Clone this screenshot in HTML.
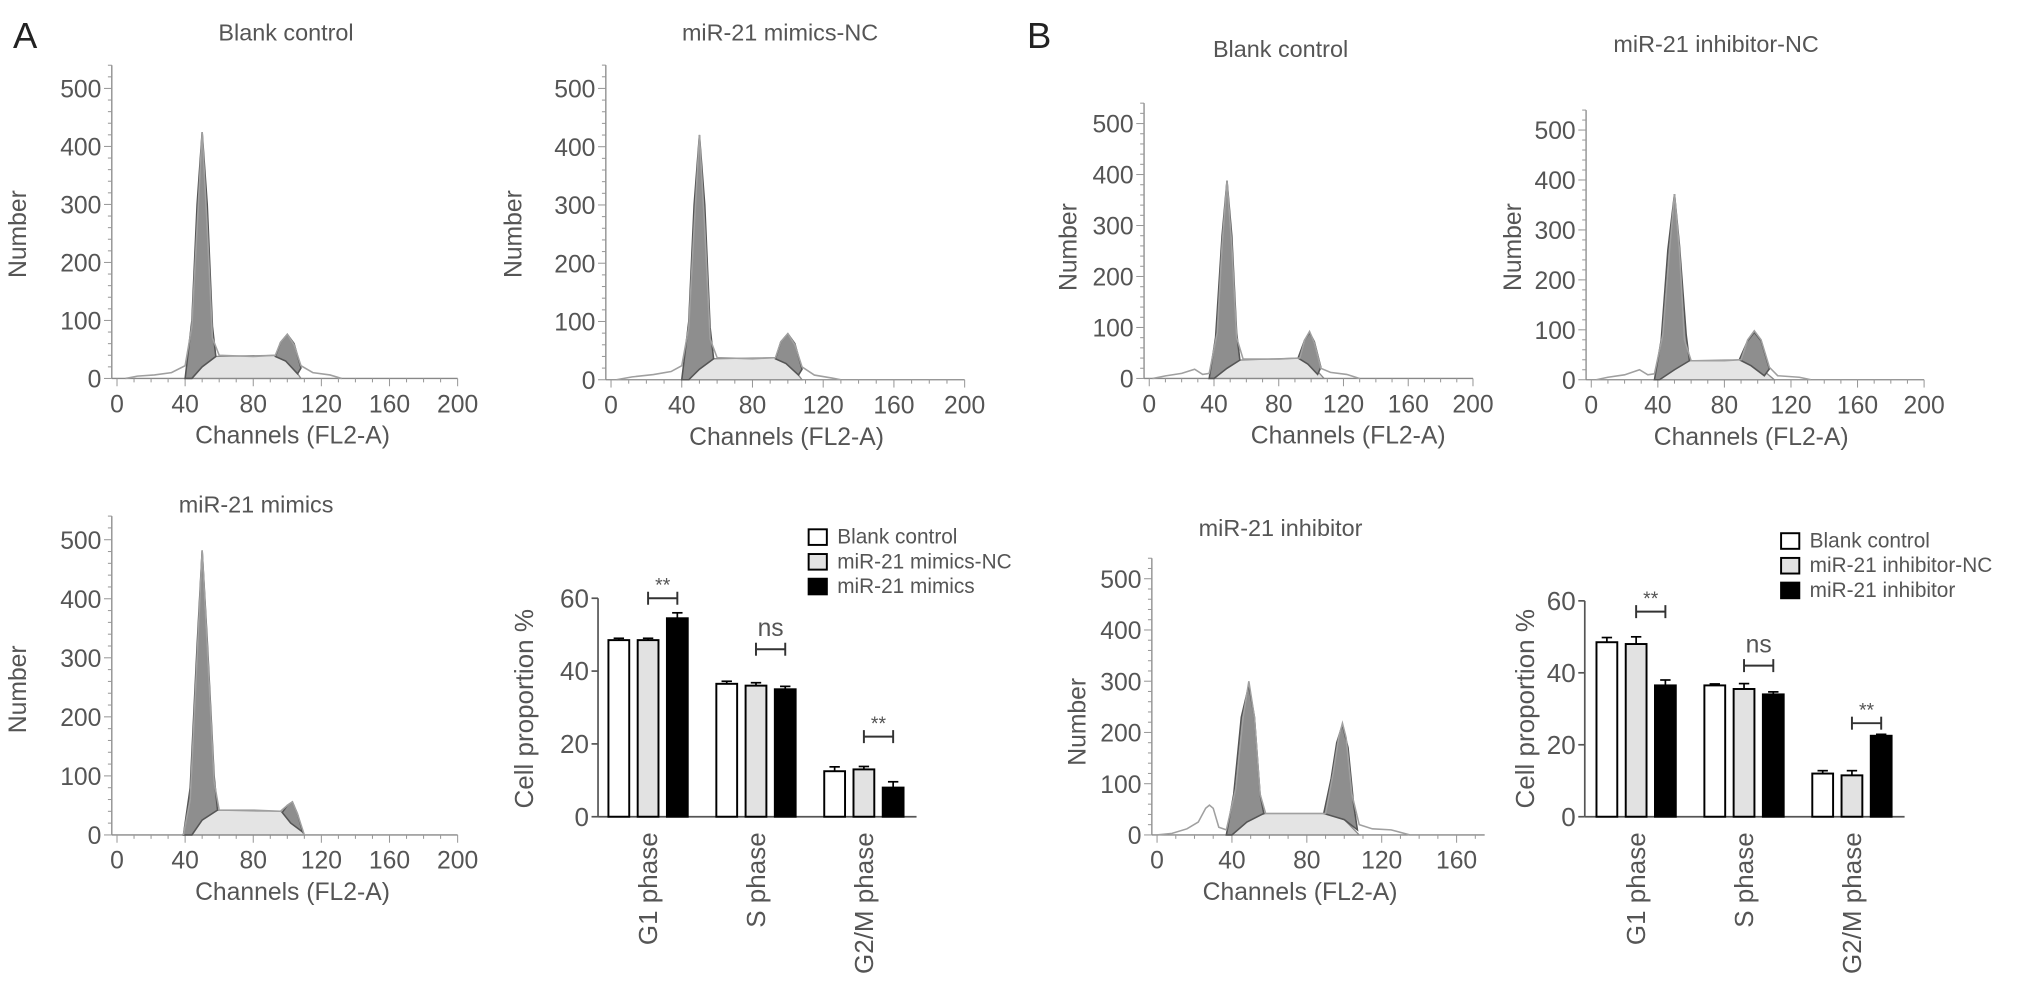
<!DOCTYPE html>
<html><head><meta charset="utf-8"><style>
html,body{margin:0;padding:0;background:#fff;}
svg{display:block;font-family:"Liberation Sans",sans-serif;}
</style></head><body>
<svg id="fig" width="2032" height="991" viewBox="0 0 1563 762" preserveAspectRatio="none">
<text x="10" y="37" font-size="28" fill="#222">A</text>
<text x="790" y="37" font-size="28" fill="#222">B</text>
</svg>
<script>
// ---------- Histogram data (channel, count) ----------
const a1Outline=[[5,0],[12,4],[22,6],[32,10],[40,22],[44,90],[47,260],[50,425],[53,260],[56,70],[60,40],[80,38],[93,40],[96,62],[100,76],[104,58],[108,22],[115,10],[125,6],[132,0]];
const a1G1=[[40,0],[44,100],[47,300],[50,425],[53,300],[56,90],[58,38],[50,20],[44,0]];
const a1S=[[42,0],[48,28],[56,38],[94,40],[101,30],[108,0]];
const a1G2=[[93,38],[96,62],[100,76],[104,60],[108,18],[106,8],[99,30]];

const a2Outline=[[3,0],[12,5],[24,9],[34,14],[40,24],[44,90],[47,260],[50,420],[53,260],[56,70],[60,38],[80,36],[93,38],[96,65],[100,79],[104,60],[108,22],[115,8],[125,3],[130,0]];
const a2G1=[[40,0],[44,100],[47,300],[50,420],[53,300],[56,90],[58,36],[50,18],[44,0]];
const a2S=[[42,0],[48,26],[56,36],[94,38],[101,28],[108,0]];
const a2G2=[[93,36],[96,65],[100,79],[104,62],[108,18],[106,8],[99,28]];

const a3Outline=[[39,0],[43,60],[47,300],[50,482],[53,320],[57,90],[60,42],[80,42],[96,40],[100,50],[103,56],[106,35],[110,0]];
const a3G1=[[39,0],[43,80],[47,320],[50,482],[53,330],[57,100],[59,42],[50,25],[44,0]];
const a3S=[[40,0],[47,25],[58,42],[96,40],[104,25],[110,0]];
const a3G2=[[97,38],[100,50],[103,56],[106,35],[109,5],[102,20]];

const b1Outline=[[2,0],[10,5],[20,10],[28,18],[33,8],[37,10],[42,90],[45,260],[48,388],[51,260],[54,80],[58,38],[80,38],[93,40],[96,75],[99,92],[102,70],[106,20],[112,12],[122,8],[130,0]];
const b1G1=[[37,0],[41,80],[45,280],[48,388],[51,280],[54,90],[56,36],[48,20],[40,0]];
const b1S=[[37,0],[45,25],[55,36],[93,40],[100,28],[108,0]];
const b1G2=[[92,40],[96,75],[99,90],[102,72],[106,22],[104,8],[98,28]];

const b2Outline=[[3,0],[10,5],[20,10],[29,20],[34,10],[38,12],[43,90],[47,260],[50,372],[53,260],[56,80],[60,38],[80,38],[90,40],[94,80],[98,98],[102,80],[107,25],[112,8],[125,5],[132,0]];
const b2G1=[[38,0],[42,80],[46,260],[50,372],[53,270],[57,90],[59,38],[50,20],[41,0]];
const b2S=[[38,0],[46,25],[58,38],[90,40],[100,28],[110,0]];
const b2G2=[[89,40],[94,78],[98,95],[102,78],[107,22],[104,8],[96,28]];

const b3Outline=[[0,0],[8,3],[16,12],[22,25],[26,52],[28,58],[30,52],[33,15],[37,10],[42,90],[46,230],[49,300],[52,230],[55,80],[58,42],[90,42],[94,120],[97,190],[99,218],[101,190],[104,80],[108,20],[115,12],[125,10],[135,0]];
const b3G1=[[37,0],[41,80],[45,230],[49,292],[52,230],[55,80],[57,42],[48,25],[40,0]];
const b3S=[[38,0],[46,30],[58,42],[90,42],[100,30],[108,0]];
const b3G2=[[89,42],[93,110],[96,180],[99,215],[102,170],[105,60],[107,10],[100,30]];

// ---------- Bar chart data ----------
const phases=["G1 phase","S phase","G2/M phase"];
const aBlank=[48.5,36.5,12.5], aMimNC=[48.5,36,13], aMim=[54.5,35,8];
const aBlankErr=[0.5,0.7,1.2], aMimNCErr=[0.5,0.8,0.8], aMimErr=[1.5,0.8,1.6];
const aSig=["**","ns","**"], aSigLevel=[60,46,22];
const bBlank=[48.5,36.5,12], bInhNC=[48,35.5,11.5], bInh=[36.5,34,22.5];
const bBlankErr=[1.3,0.4,0.8], bInhNCErr=[2.0,1.5,1.3], bInhErr=[1.5,0.7,0.4];
const bSig=["**","ns","**"], bSigLevel=[57,42,26];
const yTicksHist=[0,100,200,300,400,500];
const yTicksBar=[0,20,40,60];

const NS="http://www.w3.org/2000/svg";
const svg=document.getElementById('fig');
function mk(tag,attrs,parent){const e=document.createElementNS(NS,tag);for(const k in attrs)e.setAttribute(k,attrs[k]);(parent||svg).appendChild(e);return e;}
function txt(x,y,s,size,extra,parent){const t=mk('text',Object.assign({x:x,y:y,'font-size':size,fill:'#555'},extra||{}),parent);t.textContent=s;return t;}

function histogram(cfg,outline,g1,sph,g2){
  const g=mk('g',{});
  
  
  const sx=c=>cfg.px0+(c/200)*(cfg.px200-cfg.px0);
  const sy=v=>cfg.y0-(v/500)*(cfg.y0-cfg.y500);
  const pts=a=>a.map(p=>sx(p[0]).toFixed(1)+','+sy(p[1]).toFixed(1)).join(' ');
  const t=txt(cfg.tx,cfg.ty,cfg.title,18,{'text-anchor':'middle'},g);
  
  
  const top=sy(540);
  mk('line',{x1:cfg.ax,y1:top,x2:cfg.ax,y2:cfg.y0,stroke:'#888','stroke-width':1},g);
  mk('line',{x1:cfg.ax,y1:cfg.y0,x2:sx(cfg.xmax),y2:cfg.y0,stroke:'#888','stroke-width':1},g);
  for(let v=0;v<=540;v+=20){const y=sy(v);mk('line',{x1:cfg.ax-(v%100==0?6:3),y1:y,x2:cfg.ax,y2:y,stroke:'#999','stroke-width':0.8},g);}
  yTicksHist.forEach(v=>{const l=txt(cfg.ax-8,sy(v)+7,String(v),19,{'text-anchor':'end'},g);
    
    });
  for(let c=0;c<=cfg.xmax;c+=10){const x=sx(c);mk('line',{x1:x,y1:cfg.y0,x2:x,y2:cfg.y0+(c%40==0?6:3),stroke:'#999','stroke-width':0.8},g);}
  cfg.xticks.forEach(c=>{const l=txt(sx(c),cfg.y0+26,String(c),19,{'text-anchor':'middle'},g);
    
    });
  const xl=txt(cfg.cx,cfg.y0+50,'Channels (FL2-A)',19,{'text-anchor':'middle'},g);
  
  
  const yl=txt(0,0,'Number',19,{'text-anchor':'middle',transform:'translate('+cfg.nx+','+cfg.ny+') rotate(-90)'},g);
  
  
  const s=mk('polygon',{points:pts(sph),fill:'#e4e4e4',stroke:'#8a8a8a','stroke-width':1},g);
  
  
  const a=mk('polygon',{points:pts(g1),fill:'#8e8e8e',stroke:'#555','stroke-width':1.2},g);
  
  
  const b=mk('polygon',{points:pts(g2),fill:'#8e8e8e',stroke:'#555','stroke-width':1.2},g);
  
  
  const o=mk('polyline',{points:pts(outline),fill:'none',stroke:'#a0a0a0','stroke-width':1.2},g);
  
  
}

histogram({name:'hist-a-blank',title:'Blank control',tx:220,ty:31,ax:86,px0:90,px200:352,xmax:200,y0:291,y500:68,xticks:[0,40,80,120,160,200],cx:225,nx:20,ny:180},a1Outline,a1G1,a1S,a1G2);
histogram({name:'hist-a-mimics-nc',title:'miR-21 mimics-NC',tx:600,ty:31,ax:466,px0:470,px200:742,xmax:200,y0:292,y500:68,xticks:[0,40,80,120,160,200],cx:605,nx:401,ny:180},a2Outline,a2G1,a2S,a2G2);
histogram({name:'hist-a-mimics',title:'miR-21 mimics',tx:197,ty:394,ax:86,px0:90,px200:352,xmax:200,y0:642,y500:415,xticks:[0,40,80,120,160,200],cx:225,nx:20,ny:530},a3Outline,a3G1,a3S,a3G2);
histogram({name:'hist-b-blank',title:'Blank control',tx:985,ty:44,ax:880,px0:884,px200:1133,xmax:200,y0:291,y500:95,xticks:[0,40,80,120,160,200],cx:1037,nx:828,ny:190},b1Outline,b1G1,b1S,b1G2);
histogram({name:'hist-b-inhibitor-nc',title:'miR-21 inhibitor-NC',tx:1320,ty:40,ax:1220,px0:1224,px200:1480,xmax:200,y0:292,y500:100,xticks:[0,40,80,120,160,200],cx:1347,nx:1170,ny:190},b2Outline,b2G1,b2S,b2G2);
histogram({name:'hist-b-inhibitor',title:'miR-21 inhibitor',tx:985,ty:412,ax:886,px0:890,px200:1178,xmax:175,y0:642,y500:445,xticks:[0,40,80,120,160],cx:1000,nx:835,ny:555},b3Outline,b3G1,b3S,b3G2);

function barChart(cfg,series,errs,sig,sigLvl,names){
  const g=mk('g',{});
  
  
  const sy=v=>cfg.y0-(v/60)*(cfg.y0-cfg.y60);
  const fills=['#fff','#e2e2e2','#000'];
  const bw=16,step=22.5;
  mk('line',{x1:cfg.ax,y1:sy(60),x2:cfg.ax,y2:cfg.y0,stroke:'#555','stroke-width':1.3},g);
  mk('line',{x1:cfg.ax,y1:cfg.y0,x2:cfg.axEnd,y2:cfg.y0,stroke:'#555','stroke-width':1.3},g);
  yTicksBar.forEach(v=>{mk('line',{x1:cfg.ax-5,y1:sy(v),x2:cfg.ax,y2:sy(v),stroke:'#555','stroke-width':1.3},g);
    const l=txt(cfg.ax-7,sy(v)+7,String(v),20,{'text-anchor':'end'},g);
    
    });
  const yl=txt(0,0,'Cell proportion %',20,{'text-anchor':'middle',transform:'translate('+cfg.lx+','+cfg.ly+') rotate(-90)'},g);
  
  
  phases.forEach((p,i)=>{
    const gx=cfg.g0+i*cfg.pitch;
    series.forEach((arr,k)=>{
      const x=gx+k*step, v=arr[i], e=errs[k][i];
      const r=mk('rect',{x:x,y:sy(v),width:bw,height:cfg.y0-sy(v),fill:fills[k],stroke:'#000','stroke-width':1.5},g);
      
      
      mk('line',{x1:x+bw/2,y1:sy(v),x2:x+bw/2,y2:sy(v+e),stroke:'#000','stroke-width':1.3},g);
      mk('line',{x1:x+bw/2-4,y1:sy(v+e),x2:x+bw/2+4,y2:sy(v+e),stroke:'#000','stroke-width':1.3},g);
    });
    const cx=gx+step+bw/2;
    const lab=txt(0,0,p,20,{'text-anchor':'end',transform:'translate('+(cx+7)+','+(cfg.y0+12)+') rotate(-90)'},g);
    
    
    const bx1=gx+step+bw/2, bx2=gx+2*step+bw/2, by=sy(sigLvl[i]);
    mk('line',{x1:bx1,y1:by,x2:bx2,y2:by,stroke:'#333','stroke-width':1.5},g);
    mk('line',{x1:bx1,y1:by-5,x2:bx1,y2:by+5,stroke:'#333','stroke-width':1.5},g);
    mk('line',{x1:bx2,y1:by-5,x2:bx2,y2:by+5,stroke:'#333','stroke-width':1.5},g);
    const st=txt((bx1+bx2)/2,sig[i]=='ns'?by-10:by-5,sig[i],sig[i]=='ns'?19:15,{'text-anchor':'middle'},g);
    
    
  });
  cfg.legend.forEach((s,k)=>{
    const y=cfg.legY+k*19;
    const b=mk('rect',{x:cfg.legX,y:y-11,width:14,height:12,fill:fills[k],stroke:'#000','stroke-width':1.5},g);
    
    
    const t=txt(cfg.legX+22,y,s,16,{},g);
    
    
  });
}
barChart({name:'bar-chart-a',ax:460,axEnd:705,y0:628,y60:460,g0:468,pitch:83,lx:410,ly:545,legX:622,legY:418,
  legend:['Blank control','miR-21 mimics-NC','miR-21 mimics']},[aBlank,aMimNC,aMim],[aBlankErr,aMimNCErr,aMimErr],aSig,aSigLevel,['blank','mimics-nc','mimics']);
barChart({name:'bar-chart-b',ax:1219,axEnd:1465,y0:628,y60:462,g0:1228,pitch:83,lx:1180,ly:545,legX:1370,legY:421,
  legend:['Blank control','miR-21 inhibitor-NC','miR-21 inhibitor']},[bBlank,bInhNC,bInh],[bBlankErr,bInhNCErr,bInhErr],bSig,bSigLevel,['blank','inhibitor-nc','inhibitor']);
</script>
</body></html>
